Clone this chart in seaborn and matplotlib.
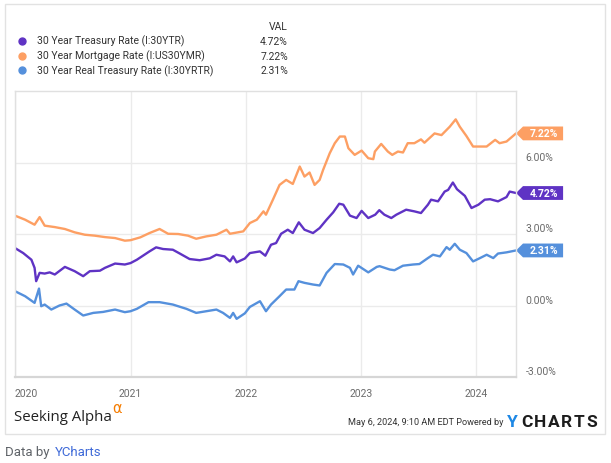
import pandas as pd
import matplotlib.pyplot as plt
import matplotlib.transforms as mtransforms
from matplotlib.lines import Line2D
from matplotlib.patches import Polygon, Rectangle
import seaborn as sns

# ==========================
# Datos
# ==========================

treasury_dates = [
    "2020-01-01", "2020-01-27", "2020-02-22", "2020-03-03", "2020-03-08", "2020-03-19",
    "2020-04-04", "2020-04-20", "2020-05-06", "2020-06-07", "2020-07-08", "2020-08-04",
    "2020-08-25", "2020-09-26", "2020-10-12", "2020-11-13", "2020-12-14", "2021-01-01",
    "2021-01-21", "2021-03-02", "2021-03-23", "2021-04-14", "2021-05-15", "2021-06-06",
    "2021-07-07", "2021-08-08", "2021-09-09", "2021-09-30", "2021-10-26", "2021-11-12",
    "2021-11-22", "2021-12-03", "2021-12-29", "2022-01-14", "2022-02-15", "2022-03-04",
    "2022-03-22", "2022-04-07", "2022-04-23", "2022-05-14", "2022-05-30", "2022-06-18",
    "2022-07-06", "2022-08-02", "2022-08-23", "2022-09-14", "2022-10-05", "2022-10-24",
    "2022-11-06", "2022-11-27", "2022-12-18", "2023-01-03", "2023-01-24", "2023-02-15",
    "2023-02-28", "2023-03-16", "2023-04-07", "2023-04-23", "2023-05-24", "2023-06-19",
    "2023-07-10", "2023-08-01", "2023-08-11", "2023-09-02", "2023-09-23", "2023-10-04",
    "2023-10-19", "2023-11-01", "2023-11-26", "2023-12-17", "2024-01-08", "2024-01-28",
    "2024-02-14", "2024-03-10", "2024-04-06", "2024-04-16", "2024-05-06",
]
treasury_vals = [
    2.41, 2.20, 1.92, 1.58, 1.02, 1.37,
    1.34, 1.39, 1.30, 1.62, 1.44, 1.23,
    1.44, 1.46, 1.58, 1.76, 1.72, 1.78,
    1.92, 2.27, 2.44, 2.37, 2.34, 2.18,
    1.95, 1.90, 1.98, 2.13, 2.06, 1.85,
    2.06, 1.81, 1.97, 2.20, 2.27, 2.09,
    2.55, 2.62, 3.01, 3.18, 3.04, 3.49,
    3.18, 3.04, 3.25, 3.60, 3.91, 4.27,
    4.23, 3.77, 3.67, 3.97, 3.67, 3.81,
    4.00, 3.81, 3.67, 3.81, 4.02, 3.95,
    3.88, 4.23, 4.44, 4.37, 4.78, 4.85,
    5.16, 4.88, 4.60, 4.09, 4.23, 4.44,
    4.46, 4.37, 4.55, 4.78, 4.72,
]

mortgage_dates = [
    "2020-01-01", "2020-02-02", "2020-03-03", "2020-03-19", "2020-04-04", "2020-05-06",
    "2020-06-07", "2020-07-08", "2020-08-09", "2020-09-10", "2020-10-12", "2020-11-13",
    "2020-12-14", "2021-01-01", "2021-02-01", "2021-03-02", "2021-04-03", "2021-04-30",
    "2021-06-01", "2021-07-02", "2021-07-28", "2021-08-29", "2021-09-30", "2021-11-01",
    "2021-11-12", "2021-12-24", "2022-01-14", "2022-02-05", "2022-02-26", "2022-03-06",
    "2022-03-28", "2022-04-18", "2022-05-09", "2022-05-30", "2022-06-21", "2022-07-06",
    "2022-07-22", "2022-08-07", "2022-08-23", "2022-09-03", "2022-09-24", "2022-10-10",
    "2022-10-26", "2022-11-11", "2022-11-22", "2022-12-12", "2023-01-03", "2023-01-24",
    "2023-02-09", "2023-02-14", "2023-03-06", "2023-03-27", "2023-04-10", "2023-04-28",
    "2023-05-14", "2023-05-29", "2023-06-19", "2023-07-10", "2023-07-21", "2023-08-22",
    "2023-09-13", "2023-10-09", "2023-10-28", "2023-11-10", "2023-12-01", "2023-12-22",
    "2024-01-13", "2024-02-03", "2024-03-01", "2024-03-15", "2024-04-06", "2024-05-06",
]
mortgage_vals = [
    3.77, 3.60, 3.39, 3.71, 3.35, 3.29,
    3.21, 3.07, 2.97, 2.93, 2.87, 2.83,
    2.72, 2.74, 2.86, 3.04, 3.21, 3.01,
    3.00, 2.93, 2.80, 2.90, 2.97, 3.18,
    3.01, 3.11, 3.46, 3.60, 3.95, 3.81,
    4.44, 5.06, 5.27, 5.10, 5.83, 5.41,
    5.58, 5.06, 5.27, 5.69, 6.39, 6.81,
    7.09, 7.09, 6.60, 6.32, 6.50, 6.18,
    6.14, 6.46, 6.78, 6.46, 6.32, 6.46,
    6.42, 6.81, 6.81, 6.97, 6.83, 7.22,
    7.15, 7.50, 7.81, 7.50, 7.11, 6.67,
    6.67, 6.67, 6.95, 6.81, 6.88, 7.22,
]

real_dates = [
    "2020-01-01", "2020-02-02", "2020-03-03", "2020-03-17", "2020-03-24", "2020-04-04",
    "2020-04-25", "2020-05-21", "2020-06-12", "2020-07-08", "2020-08-04", "2020-09-05",
    "2020-10-06", "2020-11-13", "2020-12-14", "2021-01-01", "2021-01-21", "2021-02-27",
    "2021-04-03", "2021-05-15", "2021-06-27", "2021-07-28", "2021-08-29", "2021-09-30",
    "2021-10-21", "2021-11-12", "2021-11-22", "2021-12-03", "2021-12-29", "2022-01-14",
    "2022-02-15", "2022-03-06", "2022-03-22", "2022-04-18", "2022-05-09", "2022-06-04",
    "2022-06-17", "2022-07-06", "2022-08-02", "2022-08-23", "2022-09-14", "2022-10-10",
    "2022-11-06", "2022-11-27", "2022-12-07", "2022-12-23", "2023-01-24", "2023-02-20",
    "2023-03-01", "2023-04-02", "2023-04-17", "2023-05-14", "2023-06-15", "2023-07-05",
    "2023-08-01", "2023-08-17", "2023-09-08", "2023-09-29", "2023-10-09", "2023-10-25",
    "2023-11-10", "2023-12-01", "2023-12-22", "2024-01-13", "2024-02-03", "2024-02-24",
    "2024-03-10", "2024-04-06", "2024-05-06",
]
real_vals = [
    0.60, 0.39, 0.11, 0.71, -0.03, 0.04,
    -0.17, 0.00, 0.08, -0.17, -0.42, -0.31,
    -0.27, -0.17, -0.28, -0.24, -0.14, 0.14,
    0.14, 0.04, -0.14, -0.31, -0.24, -0.17,
    -0.31, -0.52, -0.31, -0.56, -0.33, -0.06,
    0.18, -0.24, 0.04, 0.39, 0.67, 0.67,
    1.02, 0.95, 0.88, 0.84, 1.37, 1.74,
    1.72, 1.58, 1.30, 1.67, 1.39, 1.62,
    1.65, 1.51, 1.48, 1.67, 1.72, 1.74,
    1.99, 2.13, 2.06, 2.45, 2.34, 2.59,
    2.34, 2.20, 1.85, 1.99, 2.13, 1.99,
    2.18, 2.23, 2.31,
]

series_names = [
    "30 Year Treasury Rate (I:30YTR)",
    "30 Year Mortgage Rate (I:US30YMR)",
    "30 Year Real Treasury Rate (I:30YRTR)",
]
last_vals = ["4.72%", "7.22%", "2.31%"]
colores = ["#5f33c4", "#fd9f63", "#5590dc"]
y_ticks = [-3, 0, 3, 6]
year_ticks = ["2020", "2021", "2022", "2023", "2024"]

# ==========================
# Tabla larga para seaborn
# ==========================

df = pd.concat([
    pd.DataFrame({"fecha": pd.to_datetime(treasury_dates), "valor": treasury_vals, "serie": series_names[0]}),
    pd.DataFrame({"fecha": pd.to_datetime(mortgage_dates), "valor": mortgage_vals, "serie": series_names[1]}),
    pd.DataFrame({"fecha": pd.to_datetime(real_dates), "valor": real_vals, "serie": series_names[2]}),
])

sns.set_style("white")
plt.rcParams["font.family"] = ["Roboto", "DejaVu Sans"]

fig = plt.figure(figsize=(6.11, 4.64), dpi=100)
ax = fig.add_axes([15 / 611, 1 - 378 / 464, 501 / 611, 286 / 464])

sns.lineplot(
    data=df, x="fecha", y="valor", hue="serie",
    palette=dict(zip(series_names, colores)),
    hue_order=series_names, estimator=None, linewidth=1.7,
    legend=False, ax=ax,
)

ax.set_xlim(pd.Timestamp("2020-01-01"), pd.Timestamp("2024-05-06"))
ax.set_ylim(-3, 9)
ax.set_xlabel("")
ax.set_ylabel("")

# Ejes y cuadrícula
ax.yaxis.tick_right()
ax.set_yticks(y_ticks)
ax.set_yticklabels([f"{v:.2f}%" for v in y_ticks])
ax.set_xticks(pd.to_datetime([y + "-01-01" for y in year_ticks]))
ax.set_xticklabels(year_ticks)
ax.tick_params(axis="both", length=0, labelsize=7.5, labelcolor="#6b6b6b")
ax.tick_params(axis="y", pad=7)
ax.tick_params(axis="x", pad=8)
ax.grid(True, color="#ebebeb", linewidth=1)
for side in ["left", "top", "right"]:
    ax.spines[side].set_color("#e0e0e0")
    ax.spines[side].set_linewidth(1)
ax.spines["bottom"].set_color("#d6d6d6")
ax.spines["bottom"].set_linewidth(1.6)

offset = mtransforms.ScaledTranslation(0, 5 / 72, fig.dpi_scale_trans)
for lab in ax.get_yticklabels():
    lab.set_transform(lab.get_transform() + offset)
ax.get_xticklabels()[0].set_horizontalalignment("left")

# Etiquetas del último valor
trans = mtransforms.blended_transform_factory(ax.transAxes, ax.transData)
h = 0.29
for val_txt, col in zip(last_vals, colores):
    v = float(val_txt.strip("%"))
    tag = Polygon(
        [(1.0, v), (1.014, v + h), (1.094, v + h), (1.094, v - h), (1.014, v - h)],
        closed=True, transform=trans, clip_on=False, facecolor=col, edgecolor="none",
    )
    ax.add_patch(tag)
    ax.text(1.055, v, val_txt, transform=trans, ha="center", va="center",
            color="white", fontsize=7.5, fontweight="bold", clip_on=False)

# Leyenda superior
fig.text(288 / 611, 1 - 27 / 464, "VAL", ha="right", va="center", fontsize=7.5, color="#333333")
for i, (name, val_txt, col) in enumerate(zip(series_names, last_vals, colores)):
    y = 1 - (41.7 + 14.8 * i) / 464
    fig.add_artist(Line2D([22 / 611], [y], marker="o", markersize=5, color=col,
                          linestyle="none", transform=fig.transFigure))
    fig.text(37 / 611, y, name, ha="left", va="center", fontsize=7.5, color="#333333")
    fig.text(288 / 611, y, val_txt, ha="right", va="center", fontsize=7.5, color="#333333")

# Marco de la tarjeta y pie
fig.add_artist(Rectangle((5 / 611, 1 - 435 / 464), 600 / 611, 430 / 464,
                         transform=fig.transFigure, fill=False, edgecolor="#e2e2e2", linewidth=1))
fig.text(14 / 611, 1 - 418 / 464, "Seeking Alpha", ha="left", va="center",
         fontsize=10.8, color="#222222", family=["Open Sans", "DejaVu Sans"])
fig.text(112 / 611, 1 - 409 / 464, "α", ha="left", va="center", fontsize=10.5,
         color="#f57c00", family=["DejaVu Sans"])
fig.text(504 / 611, 1 - 423 / 464, "May 6, 2024, 9:10 AM EDT Powered by", ha="right", va="center",
         fontsize=6.6, color="#333333")
fig.text(507 / 611, 1 - 423 / 464, "Y", ha="left", va="center", fontsize=12.5,
         fontweight="bold", color="#1e88e5")

# logo con espaciado entre letras
renderer = fig.canvas.get_renderer()
x_px = 521
for letra in "CHARTS":
    t = fig.text(x_px / 611, 1 - 423 / 464, letra, ha="left", va="center", fontsize=12.5,
                 fontweight="bold", color="#1c1c1c")
    x_px += t.get_window_extent(renderer).width + 1.6

fig.text(5 / 611, 1 - 453 / 464, "Data by", ha="left", va="center", fontsize=9.5, color="#5f6368")
fig.text(55 / 611, 1 - 453 / 464, "YCharts", ha="left", va="center", fontsize=9.5, color="#3f6ad8")

plt.savefig("out.png", dpi=100)
plt.close()
